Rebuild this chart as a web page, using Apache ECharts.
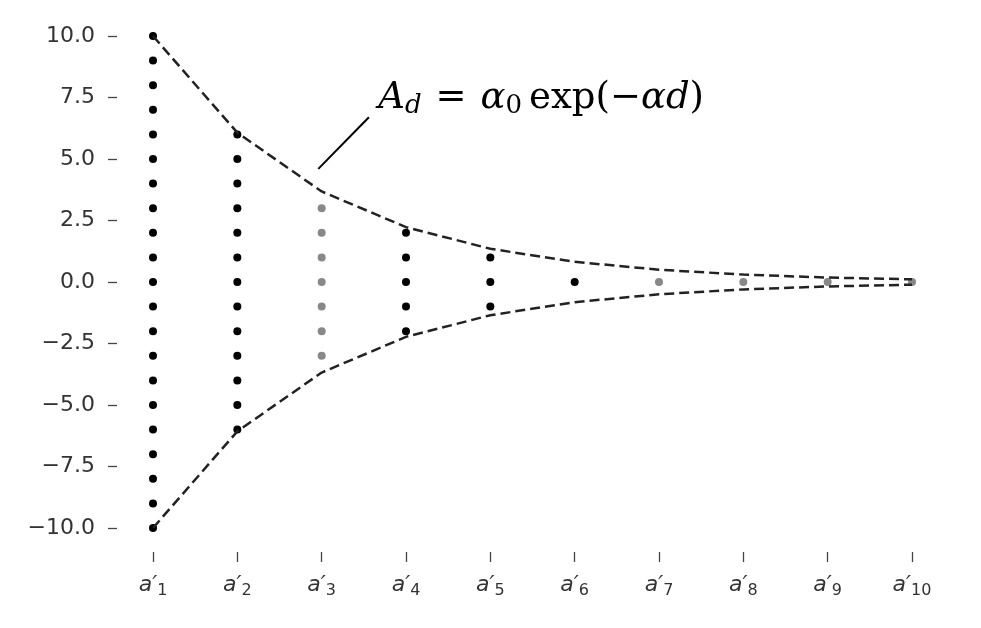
<!DOCTYPE html>
<html>
<head>
<meta charset="utf-8">
<script src="https://cdn.jsdelivr.net/npm/echarts@6/dist/echarts.min.js"></script>
<style>
  html, body { margin: 0; padding: 0; background: #fff; }
  #chart { width: 981px; height: 628px; }
</style>
</head>
<body>
<div id="chart"></div>
<script>
// 列名 a'1 ... a'10
const categories = ['1', '2', '3', '4', '5', '6', '7', '8', '9', '10']
// 每列的點 (y 值)
const dotsCol1 = [10, 9, 8, 7, 6, 5, 4, 3, 2, 1, 0, -1, -2, -3, -4, -5, -6, -7, -8, -9, -10]
const dotsCol2 = [6, 5, 4, 3, 2, 1, 0, -1, -2, -3, -4, -5, -6]
const dotsCol3 = [3, 2, 1, 0, -1, -2, -3]
const dotsCol4 = [2, 1, 0, -1, -2]
const dotsCol5 = [1, 0, -1]
const dotsCol6 = [0]
const dotsCol7 = [0]
const dotsCol8 = [0]
const dotsCol9 = [0]
const dotsCol10 = [0]
const dotColumns = [dotsCol1, dotsCol2, dotsCol3, dotsCol4, dotsCol5, dotsCol6, dotsCol7, dotsCol8, dotsCol9, dotsCol10]
// 黑點 / 灰點
const columnShade = ['black', 'black', 'grey', 'black', 'black', 'black', 'grey', 'grey', 'grey', 'grey']
// 包絡線 A_d
const upperEnvelope = [10, 6.07, 3.68, 2.23, 1.35, 0.82, 0.5, 0.3, 0.18, 0.11]
const lowerEnvelope = [-10, -6.07, -3.68, -2.23, -1.35, -0.82, -0.5, -0.3, -0.18, -0.11]
// y 軸刻度
const yTickValues = [-10, -7.5, -5, -2.5, 0, 2.5, 5, 7.5, 10]
const yTickLabels = ['\u221210.0', '\u22127.5', '\u22125.0', '\u22122.5', '0.0', '2.5', '5.0', '7.5', '10.0']
// 註解 (數據座標)
const noteLineFrom = [2.96, 4.6]
const noteLineTo = [3.56, 6.7]
const noteTextAt = [3.67, 7.48]

const blackDots = []
const greyDots = []
dotColumns.forEach((col, i) => {
  col.forEach(v => {
    if (columnShade[i] === 'black') blackDots.push([i + 1, v])
    else greyDots.push([i + 1, v])
  })
})

const myChart = echarts.init(document.getElementById('chart'))

const myOption = {
  animation: false,
  backgroundColor: '#fff',
  grid: {
    left: 153,
    right: 69,
    top: 36,
    bottom: 100,
    containLabel: false
  },
  xAxis: {
    type: 'value',
    min: 1,
    max: 10,
    interval: 1,
    offset: 24,
    splitLine: { show: false },
    axisLine: { show: false, onZero: false },
    axisTick: { show: true, length: 10, lineStyle: { color: '#444', width: 1.3 } },
    axisLabel: {
      margin: 20,
      showMinLabel: true,
      showMaxLabel: true,
      formatter: v => '{a|a\u2032}{s|' + categories[v - 1] + '}',
      rich: {
        a: { fontFamily: 'DejaVu Sans', fontStyle: 'italic', fontSize: 22, color: '#333', lineHeight: 26 },
        s: { fontFamily: 'DejaVu Sans', fontSize: 16, color: '#333', padding: [12, 0, 0, 0], lineHeight: 16 }
      }
    }
  },
  yAxis: {
    type: 'value',
    min: -10,
    max: 10,
    interval: 2.5,
    offset: 36,
    splitLine: { show: false },
    axisLine: { show: false, onZero: false },
    axisTick: { show: true, length: 9, lineStyle: { color: '#444', width: 1.3 } },
    axisLabel: {
      margin: 22,
      fontFamily: 'DejaVu Sans',
      fontSize: 22,
      color: '#333',
      formatter: v => yTickLabels[yTickValues.indexOf(v)]
    }
  },
  series: [
    {
      type: 'scatter',
      data: blackDots,
      symbolSize: 8,
      itemStyle: { color: '#000', opacity: 1 },
      z: 2
    },
    {
      type: 'scatter',
      data: greyDots,
      symbolSize: 8,
      itemStyle: { color: '#888', opacity: 1 },
      z: 2
    },
    {
      type: 'line',
      data: upperEnvelope.map((v, i) => [i + 1, v]),
      showSymbol: false,
      lineStyle: { color: '#222', width: 2.5, type: [10, 5] },
      z: 3
    },
    {
      type: 'line',
      data: lowerEnvelope.map((v, i) => [i + 1, v]),
      showSymbol: false,
      lineStyle: { color: '#222', width: 2.5, type: [10, 5] },
      z: 3
    }
  ]
}

myChart.setOption(myOption)

// 註解：線 + 公式
const p0 = myChart.convertToPixel({ gridIndex: 0 }, noteLineFrom)
const p1 = myChart.convertToPixel({ gridIndex: 0 }, noteLineTo)
const pt = myChart.convertToPixel({ gridIndex: 0 }, noteTextAt)
const serif = 'DejaVu Serif'
myChart.setOption({
  graphic: [
    {
      type: 'line',
      shape: { x1: p0[0], y1: p0[1], x2: p1[0], y2: p1[1] },
      style: { stroke: '#000', lineWidth: 2 },
      z: 10
    },
    {
      type: 'text',
      x: pt[0],
      y: pt[1],
      z: 10,
      style: {
        text: '{i|A}{si|d}{eq|=}{i|\u03b1}{sr|0}{r|exp(\u2212}{i|\u03b1d}{r|)}',
        verticalAlign: 'middle',
        align: 'left',
        rich: {
          i: { fontFamily: serif, fontStyle: 'italic', fontSize: 37, fill: '#000', lineHeight: 42 },
          r: { fontFamily: serif, fontSize: 37, fill: '#000', lineHeight: 42 },
          eq: { fontFamily: serif, fontSize: 37, fill: '#000', lineHeight: 42, padding: [0, 14, 0, 14] },
          si: { fontFamily: serif, fontStyle: 'italic', fontSize: 26, fill: '#000', padding: [17, 0, 0, 0], lineHeight: 28 },
          sr: { fontFamily: serif, fontSize: 26, fill: '#000', padding: [17, 7, 0, 0], lineHeight: 28 }
        }
      }
    }
  ]
})
</script>
</body>
</html>
